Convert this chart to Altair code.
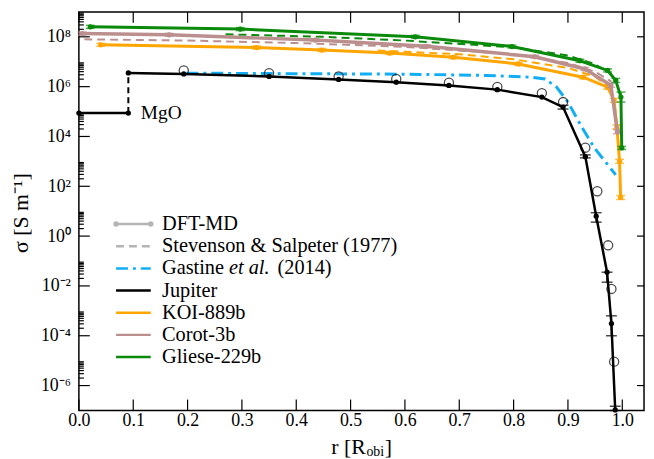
import altair as alt
import pandas as pd

W, H = 570, 402
XMAX = 1.04
YMIN, YMAX = 1e-7, 1e9
FONT = "Liberation Serif"

GREEN = "#0a8a0a"
ORANGE = "#ffa500"
PINK = "#bc8f8f"
BLUE = "#12aef5"
GRAY = "#b4b4b4"
BLACK = "#000000"

# ---------------- data (r in R_obi, sigma as log10 S/m) ----------------
mgo_r = [0.0, 0.091]
mgo_log = [4.94, 4.94]
jump_r = [0.091, 0.091]
jump_log = [4.94, 6.55]

jup_r = [0.091, 0.193, 0.35, 0.478, 0.584, 0.681, 0.77, 0.852, 0.891, 0.932, 0.952, 0.972, 0.980, 0.987]
jup_log = [6.55, 6.51, 6.41, 6.29, 6.18, 6.05, 5.88, 5.58, 5.18, 3.19, 0.80, -1.45, -3.51, -6.98]
jerr_r = [0.891, 0.932, 0.952, 0.972, 0.980, 0.987]
jerr_lo = [5.10, 3.14, 0.56, -1.85, -4.00, -7.00]
jerr_hi = [5.25, 3.26, 0.94, -1.45, -3.20, -6.83]

circ_r = [0.193, 0.35, 0.478, 0.584, 0.681, 0.77, 0.852, 0.891, 0.932, 0.954, 0.974, 0.980, 0.985]
circ_log = [6.65, 6.54, 6.41, 6.31, 6.16, 5.99, 5.74, 5.38, 3.55, 1.80, -0.37, -2.12, -5.04]

gli_r = [0.021, 0.297, 0.619, 0.797, 0.922, 0.973, 0.988, 0.9975, 0.999]
gli_log = [8.40, 8.31, 8.00, 7.61, 7.04, 6.65, 6.25, 5.58, 3.54]
gli_err = [0.06, 0.06, 0.06, 0.06, 0.06, 0.06, 0.08, 0.20, 0.06]

cor_r = [0.006, 0.166, 0.435, 0.64, 0.839, 0.931, 0.979, 0.991]
cor_log = [8.13, 8.08, 7.87, 7.62, 7.20, 6.71, 6.05, 4.19]
cor_err = [0.06, 0.06, 0.06, 0.06, 0.06, 0.06, 0.08, 0.08]

koi_r = [0.040, 0.327, 0.447, 0.572, 0.689, 0.809, 0.928, 0.973, 0.985, 0.990, 0.995, 0.997]
koi_log = [7.68, 7.57, 7.47, 7.35, 7.18, 6.91, 6.38, 5.98, 5.45, 4.39, 3.00, 1.55]
koi_err = [0.06, 0.06, 0.06, 0.06, 0.06, 0.06, 0.06, 0.08, 0.08, 0.08, 0.08, 0.08]

gas_r = [0.198, 0.40, 0.60, 0.75, 0.83, 0.858, 0.879, 0.90, 0.925, 0.949, 0.988]
gas_log = [6.54, 6.52, 6.50, 6.45, 6.38, 6.31, 5.98, 5.38, 4.39, 3.53, 2.46]

ss_cor_r = [0.01, 0.20, 0.40, 0.60, 0.80, 0.90, 0.95, 0.98]
ss_cor_log = [7.90, 7.85, 7.75, 7.60, 7.30, 6.95, 6.60, 6.20]
ss_gli_r = [0.27, 0.45, 0.60, 0.80, 0.90, 0.95, 0.98]
ss_gli_log = [8.10, 8.00, 7.85, 7.58, 7.25, 6.90, 6.50]
ss_koi_r = [0.55, 0.70, 0.80, 0.90, 0.95, 0.98]
ss_koi_log = [7.45, 7.30, 7.10, 6.75, 6.40, 5.90]

x_ticks = [0.0, 0.1, 0.2, 0.3, 0.4, 0.5, 0.6, 0.7, 0.8, 0.9, 1.0]
y_major_exp = [-6, -4, -2, 0, 2, 4, 6, 8]
minor_k = [2, 3, 4, 5, 6, 7, 8, 9]

legend_labels = ["DFT-MD", "Stevenson & Salpeter (1977)", "Gastine", "Jupiter",
                 "KOI-889b", "Corot-3b", "Gliese-229b"]
gastine_parts = ["et al.", "(2014)"]
mgo_label = "MgO"
x_title = ["r [R", "obi", "]"]
y_title = "σ [S m⁻¹]"

# ---------------- scales / axes ----------------
xs = alt.Scale(domain=[0, XMAX], nice=False, zero=False)
ys = alt.Scale(type="log", domain=[YMIN, YMAX], nice=False)

sup_map = {"-": "⁻", "0": "⁰", "1": "¹", "2": "²", "3": "³", "4": "⁴",
           "5": "⁵", "6": "⁶", "7": "⁷", "8": "⁸", "9": "⁹"}


def sup(n):
    return "".join(sup_map[c] for c in str(n))


expr = f"'10{sup(y_major_exp[-1])}'"
for e in reversed(y_major_exp[:-1]):
    expr = f"datum.value < {10 ** (e + 1)} ? '10{sup(e)}' : " + expr

AXX = alt.Axis(values=x_ticks, format=".1f", title=None, grid=False, ticks=False, tickSize=0,
               domain=False, labelFont=FONT, labelFontSize=18, labelColor="black",
               labelPadding=1, labelFlush=False)
AXY = alt.Axis(values=[10.0 ** e for e in y_major_exp], labelExpr=expr, title=None, grid=False,
               ticks=False, tickSize=0, domain=False, labelFont=FONT, labelFontSize=18,
               labelColor="black", labelPadding=8.5)


def frame(r, logs):
    return pd.DataFrame({"r": r, "s": [10 ** v for v in logs], "i": list(range(len(r)))})


def X(field="r"):
    return alt.X(f"{field}:Q", scale=xs, axis=AXX)


def Y(field="s"):
    return alt.Y(f"{field}:Q", scale=ys, axis=AXY)


def line(df, color, width=2.5, dash=None):
    kw = dict(color=color, strokeWidth=width)
    if dash:
        kw["strokeDash"] = dash
    return alt.Chart(df).mark_line(**kw).encode(x=X(), y=Y(), order="i:Q")


def dots(df, color, size=28):
    return alt.Chart(df).mark_circle(color=color, size=size, opacity=1).encode(x=X(), y=Y())


def errbars_lohi(r, lo_log, hi_log, color, cap=9):
    d = pd.DataFrame({"r": r, "lo": [10 ** v for v in lo_log], "hi": [10 ** v for v in hi_log]})
    bar = alt.Chart(d).mark_rule(color=color, strokeWidth=1.5).encode(x=X(), y=Y("lo"), y2="hi:Q")
    c1 = alt.Chart(d).mark_tick(color=color, orient="horizontal", size=cap, thickness=1.5).encode(x=X(), y=Y("lo"))
    c2 = alt.Chart(d).mark_tick(color=color, orient="horizontal", size=cap, thickness=1.5).encode(x=X(), y=Y("hi"))
    return bar + c1 + c2


def errbars(r, logs, errs, color, cap=9):
    return errbars_lohi(r, [v - e for v, e in zip(logs, errs)], [v + e for v, e in zip(logs, errs)], color, cap)


# ---------------- inward ticks (also carry the axes) ----------------
xt = pd.DataFrame({"r": x_ticks})
ymaj = pd.DataFrame({"s": [10.0 ** e for e in y_major_exp]})
ymin_vals = [k * 10.0 ** e for e in y_major_exp for k in minor_k if k * 10.0 ** e < YMAX]
ymin_df = pd.DataFrame({"s": ymin_vals})
tk = dict(color="black", strokeWidth=1.2)
ticks = [
    alt.Chart(xt).mark_rule(**tk).encode(x=X(), y=alt.value(H - 11), y2=alt.value(H)),
    alt.Chart(xt).mark_rule(**tk).encode(x=X(), y=alt.value(0), y2=alt.value(11)),
    alt.Chart(ymaj).mark_rule(**tk).encode(y=Y(), x=alt.value(0), x2=alt.value(11)),
    alt.Chart(ymaj).mark_rule(**tk).encode(y=Y(), x=alt.value(W - 7), x2=alt.value(W)),
    alt.Chart(ymin_df).mark_rule(**tk).encode(y=Y(), x=alt.value(0), x2=alt.value(5)),
]

# ---------------- series ----------------
jup = frame(jup_r, jup_log)
mgo = frame(mgo_r, mgo_log)
jump = frame(jump_r, jump_log)
circ = frame(circ_r, circ_log)
gli = frame(gli_r, gli_log)
cor = frame(cor_r, cor_log)
koi = frame(koi_r, koi_log)
gas = frame(gas_r, gas_log)

layers = [
    line(frame(ss_cor_r, ss_cor_log), PINK, 2, [8, 5]),
    line(frame(ss_koi_r, ss_koi_log), ORANGE, 2, [8, 5]),
    line(frame(ss_gli_r, ss_gli_log), GREEN, 2, [8, 5]),
    line(gas, BLUE, 3, [12, 5, 3, 5]),
    line(koi, ORANGE, 3), dots(koi, ORANGE), errbars(koi_r, koi_log, koi_err, ORANGE),
    line(cor, PINK, 3.5), dots(cor, PINK), errbars(cor_r, cor_log, cor_err, PINK),
    line(gli, GREEN, 3), dots(gli, GREEN), errbars(gli_r, gli_log, gli_err, GREEN),
    line(mgo, BLACK, 2.5), dots(mgo, BLACK),
    line(jump, BLACK, 2, [6, 4]),
    line(jup, BLACK, 2.5), dots(jup, BLACK),
    errbars_lohi(jerr_r, jerr_lo, jerr_hi, BLACK, cap=11),
    alt.Chart(circ).mark_point(shape="circle", filled=False, color=BLACK, size=85,
                               strokeWidth=1.3).encode(x=X(), y=Y()),
    alt.Chart(pd.DataFrame({"r": [0.114], "s": [10 ** 4.94], "t": [mgo_label]})).mark_text(
        align="left", baseline="middle", font=FONT, fontSize=19.5, color="black").encode(
        x=X(), y=Y(), text="t:N"),
]

# ---------------- legend ----------------
one = pd.DataFrame({"a": [0]})
LY0, LDY = 214, 22.35
LX1, LX2, LXT = 37.5, 72.5, 83.8
LFS = 20.5
leg_styles = [
    (GRAY, None, True), (GRAY, [8, 5], False), (BLUE, [12, 5, 3, 5], False),
    (BLACK, None, False), (ORANGE, None, False), (PINK, None, False), (GREEN, None, False),
]
for i, (lab, (col, dash, has_dots)) in enumerate(zip(legend_labels, leg_styles)):
    y = LY0 + LDY * i
    kw = dict(color=col, strokeWidth=2.5)
    if dash:
        kw["strokeDash"] = dash
    layers.append(alt.Chart(one).mark_rule(**kw).encode(x=alt.value(LX1), x2=alt.value(LX2), y=alt.value(y)))
    if has_dots:
        for xx in (LX1, LX2):
            layers.append(alt.Chart(one).mark_circle(color=col, size=30, opacity=1).encode(
                x=alt.value(xx), y=alt.value(y)))
    layers.append(alt.Chart(one).mark_text(align="left", baseline="middle", font=FONT, fontSize=LFS,
                                           color="black").encode(
        x=alt.value(LXT), y=alt.value(y), text=alt.value(lab)))
yg = LY0 + LDY * 2
layers.append(alt.Chart(one).mark_text(align="left", baseline="middle", font=FONT, fontSize=LFS,
                                       fontStyle="italic", color="black").encode(
    x=alt.value(LXT + 67.5), y=alt.value(yg), text=alt.value(gastine_parts[0])))
layers.append(alt.Chart(one).mark_text(align="left", baseline="middle", font=FONT, fontSize=LFS,
                                       color="black").encode(
    x=alt.value(LXT + 116.5), y=alt.value(yg), text=alt.value(gastine_parts[1])))

# ---------------- axis titles ----------------
TX, TY = 254.5, 439
layers.append(alt.Chart(one).mark_text(align="left", baseline="middle", font=FONT, fontSize=22,
                                       color="black").encode(x=alt.value(TX), y=alt.value(TY),
                                                             text=alt.value(x_title[0])))
layers.append(alt.Chart(one).mark_text(align="left", baseline="middle", font=FONT, fontSize=14,
                                       color="black").encode(x=alt.value(TX + 35.5), y=alt.value(TY + 5),
                                                             text=alt.value(x_title[1])))
layers.append(alt.Chart(one).mark_text(align="left", baseline="middle", font=FONT, fontSize=22,
                                       color="black").encode(x=alt.value(TX + 54), y=alt.value(TY),
                                                             text=alt.value(x_title[2])))
layers.append(alt.Chart(one).mark_text(align="center", baseline="middle", font=FONT, fontSize=22,
                                       angle=270, color="black").encode(
    x=alt.value(-58), y=alt.value(203), text=alt.value(y_title)))

chart = alt.layer(*ticks, *layers).properties(
    width=W, height=H,
    autosize=alt.AutoSizeParams(type="none"),
    padding={"left": 71.5, "top": 2, "right": 2, "bottom": 47},
).configure_view(stroke="black", strokeWidth=1.5)

chart.save("out.html", embed_options={"renderer": "svg", "actions": False})
